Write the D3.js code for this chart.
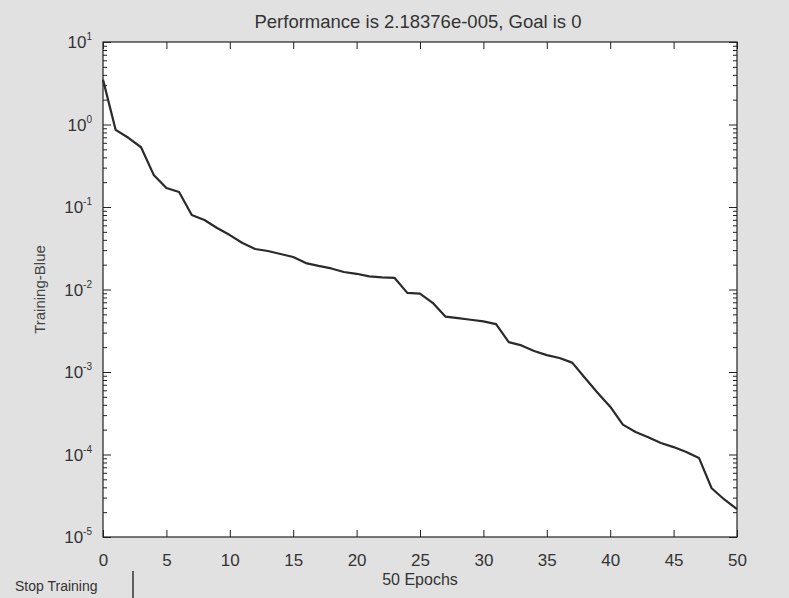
<!DOCTYPE html>
<html>
<head>
<meta charset="utf-8">
<script src="https://cdn.jsdelivr.net/npm/d3@7"></script>
<style>
    body { margin: 0; background: #e3e3e3; }
    svg { display: block; font-family: "Liberation Sans", Arial, sans-serif; }
</style>
</head>
<body>
<svg id="chart"></svg>
<script>
//----------------------------//
//            DATA            //
//----------------------------//
const epochs = [0, 1, 2, 3, 4, 5, 6, 7, 8, 9,
    10, 11, 12, 13, 14, 15, 16, 17, 18, 19,
    20, 21, 22, 23, 24, 25, 26, 27, 28, 29,
    30, 31, 32, 33, 34, 35, 36, 37, 38, 39,
    40, 41, 42, 43, 44, 45, 46, 47, 48, 49, 50];

const performance = [3.5, 0.86, 0.69, 0.53, 0.245, 0.17, 0.152, 0.08, 0.0695, 0.0556,
    0.0457, 0.0366, 0.031, 0.0293, 0.0269, 0.0248, 0.0209, 0.0193, 0.018, 0.0163,
    0.0155, 0.0144, 0.014, 0.0138, 0.0091, 0.0089, 0.0069, 0.0047, 0.0045, 0.0043,
    0.0041, 0.0038, 0.0023, 0.0021, 0.0018, 0.0016, 0.00148, 0.0013, 0.00085, 0.00056,
    0.00038, 0.00023, 0.000187, 0.000162, 0.000138, 0.000123, 0.000107, 0.000091, 0.000039, 0.0000285,
    0.0000218];

const xTicks = [0, 5, 10, 15, 20, 25, 30, 35, 40, 45, 50];
const yExponents = [1, 0, -1, -2, -3, -4, -5];

const titleText = "Performance is 2.18376e-005, Goal is 0";
const xLabelText = "50 Epochs";
const yLabelText = "Training-Blue";
const buttonText = "Stop Training";

// --- Plotting ---
const W = 789, H = 598;
const margin = { top: 42, right: 52, bottom: 61, left: 103 };
const width = W - margin.left - margin.right;
const height = H - margin.top - margin.bottom;

const svg = d3.select('#chart').attr('width', W).attr('height', H);

svg.append('rect').attr('width', W).attr('height', H).attr('fill', '#e1e1e1');

const g = svg.append('g').attr('transform', `translate(${margin.left},${margin.top})`);

const x = d3.scaleLinear().domain([0, 50]).range([0, width]);
const y = d3.scaleLog().domain([1e-5, 1e1]).range([height, 0]);

g.append('rect').attr('width', width).attr('height', height).attr('fill', '#fff');

const majorY = yExponents.map(e => Math.pow(10, e));
const minorY = [];
majorY.slice(1).forEach(base => {
    for (let k = 2; k <= 9; k++) minorY.push(base * k);
});

const styleAxis = (sel) => {
    sel.select('.domain').remove();
    sel.selectAll('line').attr('stroke', '#222').attr('stroke-width', 1);
};

// bottom / top ticks (inward)
g.append('g').attr('transform', `translate(0,${height})`)
    .call(d3.axisBottom(x).tickValues(xTicks).tickSize(-7).tickFormat(d => d))
    .call(styleAxis)
    .call(s => s.selectAll('text')
        .attr('y', 17).attr('font-size', 17).attr('fill', '#333'));

g.append('g')
    .call(d3.axisTop(x).tickValues(xTicks).tickSize(-7).tickFormat(''))
    .call(styleAxis);

// left / right ticks (inward), major + minor
g.append('g')
    .call(d3.axisLeft(y).tickValues(majorY).tickSize(-8).tickFormat(''))
    .call(styleAxis);
g.append('g')
    .call(d3.axisLeft(y).tickValues(minorY).tickSize(-4).tickFormat(''))
    .call(styleAxis);
g.append('g').attr('transform', `translate(${width},0)`)
    .call(d3.axisRight(y).tickValues(majorY).tickSize(-8).tickFormat(''))
    .call(styleAxis);
g.append('g').attr('transform', `translate(${width},0)`)
    .call(d3.axisRight(y).tickValues(minorY).tickSize(-4).tickFormat(''))
    .call(styleAxis);

// y tick labels 10^n
const yl = g.selectAll('.ylab')
    .data(yExponents)
    .enter()
    .append('text')
    .attr('class', 'ylab')
    .attr('x', -11)
    .attr('y', d => y(Math.pow(10, d)) + 6)
    .attr('text-anchor', 'end')
    .attr('fill', '#333');
yl.append('tspan').attr('font-size', 17).text('10');
yl.append('tspan').attr('font-size', 10).attr('dy', -8).text(d => d);

// frame
g.append('rect').attr('width', width).attr('height', height)
    .attr('fill', 'none').attr('stroke', '#222').attr('stroke-width', 1.2);

// performance line
const line = d3.line()
    .x((d, i) => x(epochs[i]))
    .y(d => y(d));

g.append('path')
    .datum(performance)
    .attr('fill', 'none')
    .attr('stroke', '#2a2a2a')
    .attr('stroke-width', 2.2)
    .attr('stroke-linejoin', 'round')
    .attr('d', line);

// texts
svg.append('text')
    .attr('x', margin.left + width / 2 - 2).attr('y', 28)
    .attr('text-anchor', 'middle').attr('font-size', 18.5).attr('fill', '#333')
    .text(titleText);

svg.append('text')
    .attr('x', margin.left + width / 2).attr('y', 585)
    .attr('text-anchor', 'middle').attr('font-size', 16).attr('fill', '#333')
    .text(xLabelText);

svg.append('text')
    .attr('transform', `translate(45,${margin.top + height / 2}) rotate(-90)`)
    .attr('text-anchor', 'middle').attr('font-size', 15).attr('fill', '#444')
    .text(yLabelText);

svg.append('text')
    .attr('x', 15).attr('y', 591)
    .attr('font-size', 14).attr('fill', '#333')
    .text(buttonText);

svg.append('line')
    .attr('x1', 133).attr('x2', 133).attr('y1', 571).attr('y2', 598)
    .attr('stroke', '#333').attr('stroke-width', 1.5);
</script>
</body>
</html>
